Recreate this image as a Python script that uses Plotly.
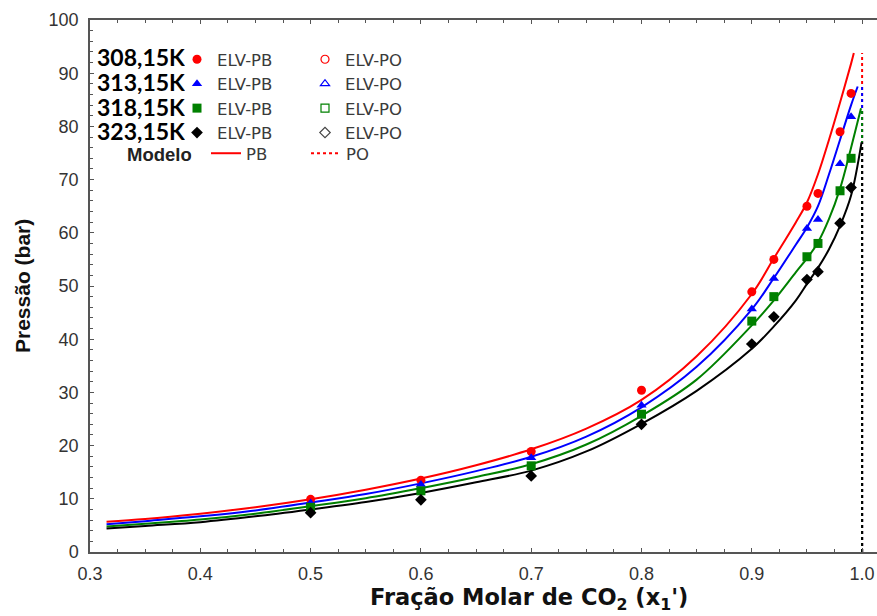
import plotly.graph_objects as go

# ---------------- data ----------------
temps = ["308,15K", "313,15K", "318,15K", "323,15K"]
colors = ["#ff0000", "#0000ff", "#008000", "#000000"]
po_marker_colors = ["#ff0000", "#0000ff", "#008000", "#444444"]
symbols_pb = ["circle", "triangle-up", "square", "diamond"]
symbols_po = ["circle-open", "triangle-up-open", "square-open", "diamond-open"]

# experimental bubble points (ELV-PB)
exp_x = [0.5, 0.6, 0.7, 0.8, 0.9, 0.92, 0.95, 0.96, 0.98, 0.99]
exp_p_308 = [9.9, 13.5, 18.9, 30.4, 48.9, 55.0, 65.0, 67.4, 79.0, 86.2]
exp_p_313 = [9.2, 12.7, 17.7, 27.6, 45.7, 51.4, 60.8, 62.5, 73.0, 81.8]
exp_p_318 = [8.4, 11.5, 16.2, 25.9, 43.4, 48.0, 55.5, 58.0, 67.9, 74.0]
exp_p_323 = [7.4, 9.8, 14.3, 24.0, 39.1, 44.2, 51.2, 52.7, 61.8, 68.5]
exp_p = [exp_p_308, exp_p_313, exp_p_318, exp_p_323]

# experimental dew points (ELV-PO) - none visible in the plot
po_exp_x = [None]
po_exp_p = [None]

# model bubble curves (PB)
model_x = [0.315, 0.35, 0.4, 0.45, 0.5, 0.55, 0.6, 0.65, 0.7, 0.75, 0.8,
           0.85, 0.9, 0.92, 0.94, 0.95, 0.96, 0.97, 0.98, 0.99]
model_p_308 = [5.7, 6.2, 7.2, 8.4, 9.9, 11.7, 13.8, 16.3, 19.3, 23.2, 28.6,
               36.8, 48.5, 55.2, 62.0, 65.7, 71.0, 77.5, 84.5, 91.8]
model_p_313 = [5.2, 5.8, 6.7, 7.8, 9.3, 10.9, 12.9, 15.2, 17.9, 21.7, 27.2,
               34.8, 45.6, 51.5, 57.8, 61.0, 65.0, 71.0, 77.5, 84.0]
model_p_318 = [4.8, 5.3, 6.1, 7.2, 8.6, 10.1, 12.0, 14.1, 16.5, 20.2, 25.6,
               32.4, 42.6, 47.3, 52.6, 55.2, 58.2, 62.6, 68.3, 76.0]
model_p_323 = [4.4, 4.9, 5.6, 6.7, 8.0, 9.4, 11.1, 13.1, 15.3, 18.9, 24.1,
               30.3, 38.2, 42.4, 47.3, 50.4, 53.4, 56.9, 61.3, 67.0]
model_p = [model_p_308, model_p_313, model_p_318, model_p_323]
pb_end_x = [0.9925, 0.996, 0.999, 0.9995]
pb_end_p = [93.8, 87.5, 83.4, 77.0]

# model dew curves (PO): vertical at x ~ 1
po_model_x = [1.0, 1.0]
po_model_bottom = 0.0

# ---------------- figure ----------------
W, H = 877, 616
L, R, T, B = 90, 0, 20, 64
PW, PH = W - L - R, H - T - B

def px_to_paper(px, py):
    return (px - L) / PW, (H - B - py) / PH

fig = go.Figure()

for i in range(4):
    fig.add_trace(go.Scatter(
        x=model_x + [pb_end_x[i]], y=model_p[i] + [pb_end_p[i]],
        mode="lines", line=dict(color=colors[i], width=2, shape="spline", smoothing=1.0),
        name="PB", legend="legend3", showlegend=(i == 0), hoverinfo="skip"))
for i in range(4):
    fig.add_trace(go.Scatter(
        x=po_model_x, y=[po_model_bottom, pb_end_p[i]],
        mode="lines", line=dict(color=colors[i], width=2, dash="dot"),
        name="PO", legend="legend4", showlegend=(i == 0), hoverinfo="skip"))
for i in range(4):
    fig.add_trace(go.Scatter(
        x=exp_x, y=exp_p[i], mode="markers",
        marker=dict(symbol=symbols_pb[i], color=colors[i], size=9, line=dict(width=0)),
        name="ELV-PB", legend="legend", showlegend=True))
for i in range(4):
    fig.add_trace(go.Scatter(
        x=po_exp_x, y=po_exp_p, mode="markers",
        marker=dict(symbol=symbols_po[i], color=po_marker_colors[i], size=8, line=dict(width=1.2)),
        name="ELV-PO", legend="legend2", showlegend=True))

legend_font = dict(family="DejaVu Sans", size=16.5, color="#3a3a3a")
common_leg = dict(xanchor="left", yanchor="top", bgcolor="rgba(0,0,0,0)", borderwidth=0,
                  font=legend_font, tracegroupgap=0, orientation="v", traceorder="normal")
l1x, l1y = px_to_paper(177, 42)
l2x, _ = px_to_paper(305, 42)
l3x, l3y = px_to_paper(206, 136)
l4x, _ = px_to_paper(306, 136)
fig.update_layout(
    showlegend=True,
    legend=dict(x=l1x, y=l1y, **common_leg),
    legend2=dict(x=l2x, y=l1y, **common_leg),
    legend3=dict(x=l3x, y=l3y, **common_leg),
    legend4=dict(x=l4x, y=l3y, **common_leg),
)

annotations = []
row_y = [57.5, 82, 106.5, 131]
for t, ry in zip(temps, row_y):
    ax, ay = px_to_paper(96, ry)
    annotations.append(dict(x=ax, y=ay, xref="paper", yref="paper", text=t,
                            showarrow=False, xanchor="left", yanchor="middle",
                            height=24, borderpad=0,
                            font=dict(family="Lato", size=23, color="#000000", weight="bold")))
mx, my = px_to_paper(193, 154)
annotations.append(dict(x=mx, y=my, xref="paper", yref="paper", text="Modelo",
                        showarrow=False, xanchor="right", yanchor="middle",
                        height=22, borderpad=0,
                        font=dict(family="Liberation Sans, Arial", size=18.5, color="#222222", weight="bold")))
tx, ty = px_to_paper(529, 599)
annotations.append(dict(x=tx, y=ty, xref="paper", yref="paper",
                        text="Fração Molar de CO<sub>2</sub> (x<sub>1</sub>')",
                        showarrow=False, xanchor="center", yanchor="middle",
                        font=dict(family="DejaVu Sans", size=22.5, color="#111111", weight="bold")))
yx, yy = px_to_paper(22, 286)
annotations.append(dict(x=yx, y=yy, xref="paper", yref="paper", text="Pressão (bar)",
                        textangle=-90, showarrow=False, xanchor="center", yanchor="middle",
                        font=dict(family="Liberation Sans, Arial", size=21, color="#111111", weight="bold")))

tick_font = dict(family="Liberation Sans, Arial", size=18, color="#333333")
fig.update_layout(
    width=W, height=H, margin=dict(l=L, r=R, t=T, b=B, autoexpand=False),
    paper_bgcolor="white", plot_bgcolor="white",
    annotations=annotations,
    xaxis=dict(range=[0.3, 0.3 + PW / 1103.0], tick0=0.3, dtick=0.1, tickformat=".1f",
               showgrid=False, zeroline=False, showline=True, linecolor="#555555", linewidth=1.5,
               mirror="ticks", ticks="inside", ticklen=4, tickcolor="#555555", tickfont=tick_font,
               ticklabelstandoff=5, automargin=False,
               minor=dict(dtick=0.025, ticks="inside", ticklen=3, tickcolor="#555555", showgrid=False)),
    yaxis=dict(range=[0, 100], dtick=10, showgrid=False, zeroline=False, showline=True,
               linecolor="#555555", linewidth=1.5, mirror=False, ticks="inside", ticklen=4,
               tickcolor="#555555", tickfont=tick_font, ticklabelstandoff=6, automargin=False,
               minor=dict(dtick=2, ticks="inside", ticklen=3, tickcolor="#555555", showgrid=False)),
)

fig.write_html("out.html", config={"displayModeBar": False},
               post_script="document.body.style.margin='0';document.body.style.padding='0';")
